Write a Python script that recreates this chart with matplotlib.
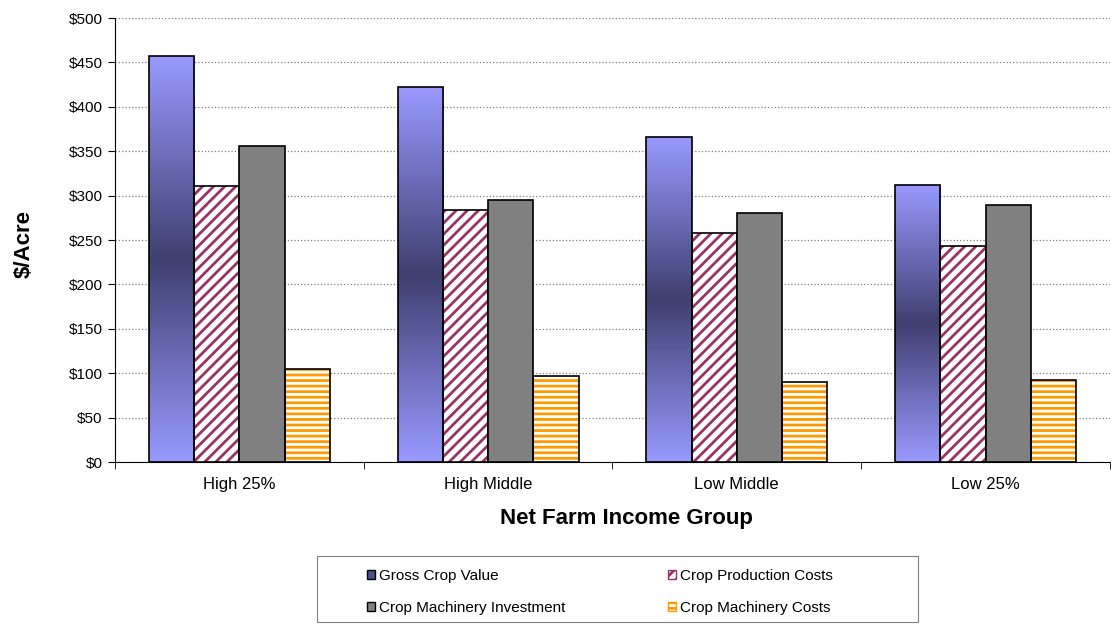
import numpy as np
import matplotlib.pyplot as plt
from matplotlib.colors import LinearSegmentedColormap
from matplotlib.patches import Patch, Rectangle
from matplotlib.ticker import FuncFormatter

plt.rcParams['font.family'] = ['Liberation Sans', 'DejaVu Sans']
plt.rcParams['hatch.linewidth'] = 2.0

groups = ["High 25%", "High Middle", "Low Middle", "Low 25%"]
gross_crop_value = [457, 422, 366, 312]
crop_production_costs = [311, 284, 258, 243]
crop_machinery_investment = [356, 295, 280, 289]
crop_machinery_costs = [105, 97, 90, 92]

fig = plt.figure(figsize=(11.11, 6.28), dpi=100)
ax = fig.add_axes([0.1035, 0.2643, 0.8955, 0.707])

x = np.arange(len(groups))
w = 0.182

# gradient fill for gross crop value (light - dark - light, per bar)
grad_cmap = LinearSegmentedColormap.from_list("grad", ["#9999ff", "#3f3f70", "#9999ff"])
grad = np.linspace(0, 1, 256).reshape(-1, 1)
bars = ax.bar(x - 1.5 * w, gross_crop_value, w, facecolor="none", edgecolor="black", lw=1.2, zorder=3)
for b in bars:
    x0, y0 = b.get_x(), b.get_y()
    im = ax.imshow(grad, cmap=grad_cmap, aspect="auto", origin="lower",
                   extent=[x0, x0 + b.get_width(), y0, y0 + b.get_height()], zorder=2)
    im.set_clip_path(b)

# hatched production costs
ax.bar(x - 0.5 * w, crop_production_costs, w, facecolor="white", edgecolor="#993366",
       hatch="///", lw=0, zorder=2)
ax.bar(x - 0.5 * w, crop_production_costs, w, facecolor="none", edgecolor="black", lw=1.2, zorder=3)

ax.bar(x + 0.5 * w, crop_machinery_investment, w, color="#808080", edgecolor="black", lw=1.2, zorder=3)

ax.bar(x + 1.5 * w, crop_machinery_costs, w, facecolor="white", edgecolor="#ff9900",
       hatch="---", lw=0, zorder=2)
ax.bar(x + 1.5 * w, crop_machinery_costs, w, facecolor="none", edgecolor="black", lw=1.2, zorder=3)

ax.set_xlim(-0.5, 3.5)
ax.set_ylim(0, 500)
ax.set_yticks(np.arange(0, 501, 50))
ax.yaxis.set_major_formatter(FuncFormatter(lambda v, p: "${:.0f}".format(v)))
ax.set_xticks(x)
ax.set_xticklabels(groups)
ax.set_xticks(np.arange(-0.5, 3.6, 1), minor=True)
ax.tick_params(axis="x", which="major", length=0, pad=11, labelsize=12)
ax.tick_params(axis="x", which="minor", length=5, direction="out")
ax.tick_params(axis="y", length=5, direction="out", labelsize=11, pad=4)

ax.yaxis.grid(True, linestyle=":", color="#808080", lw=0.9, zorder=0)
ax.set_axisbelow(True)
for s in ["top", "right"]:
    ax.spines[s].set_visible(False)

ax.set_xlabel("Net Farm Income Group", fontsize=16, fontweight="bold", labelpad=11)
ax.xaxis.label.set_x(0.5136)
ax.set_ylabel("$/Acre", fontsize=16, fontweight="bold", labelpad=24)
ax.yaxis.label.set_y(0.49)

h_gross = Patch(facecolor="#4d4d8c", edgecolor="black", label="Gross Crop Value")
h_prod = Patch(facecolor="white", edgecolor="#993366", hatch="///", label="Crop Production Costs")
h_inv = Patch(facecolor="#808080", edgecolor="black", label="Crop Machinery Investment")
h_cost = Patch(facecolor="white", edgecolor="#ff9900", hatch="---", label="Crop Machinery Costs")

leg_kw = dict(loc="upper left", fontsize=11, frameon=False, borderpad=0,
              handlelength=0.55, handleheight=0.55, handletextpad=0.25, labelspacing=1.2)
fig.legend(handles=[h_gross, h_inv], bbox_to_anchor=(0.3231, 0.1067), **leg_kw)
fig.legend(handles=[h_prod, h_cost], bbox_to_anchor=(0.5941, 0.1067), **leg_kw)
fig.add_artist(Rectangle((0.2853, 0.0096), 0.541, 0.105, transform=fig.transFigure,
                         facecolor="none", edgecolor="#808080", lw=0.8))

fig.savefig("out.png", dpi=100)
